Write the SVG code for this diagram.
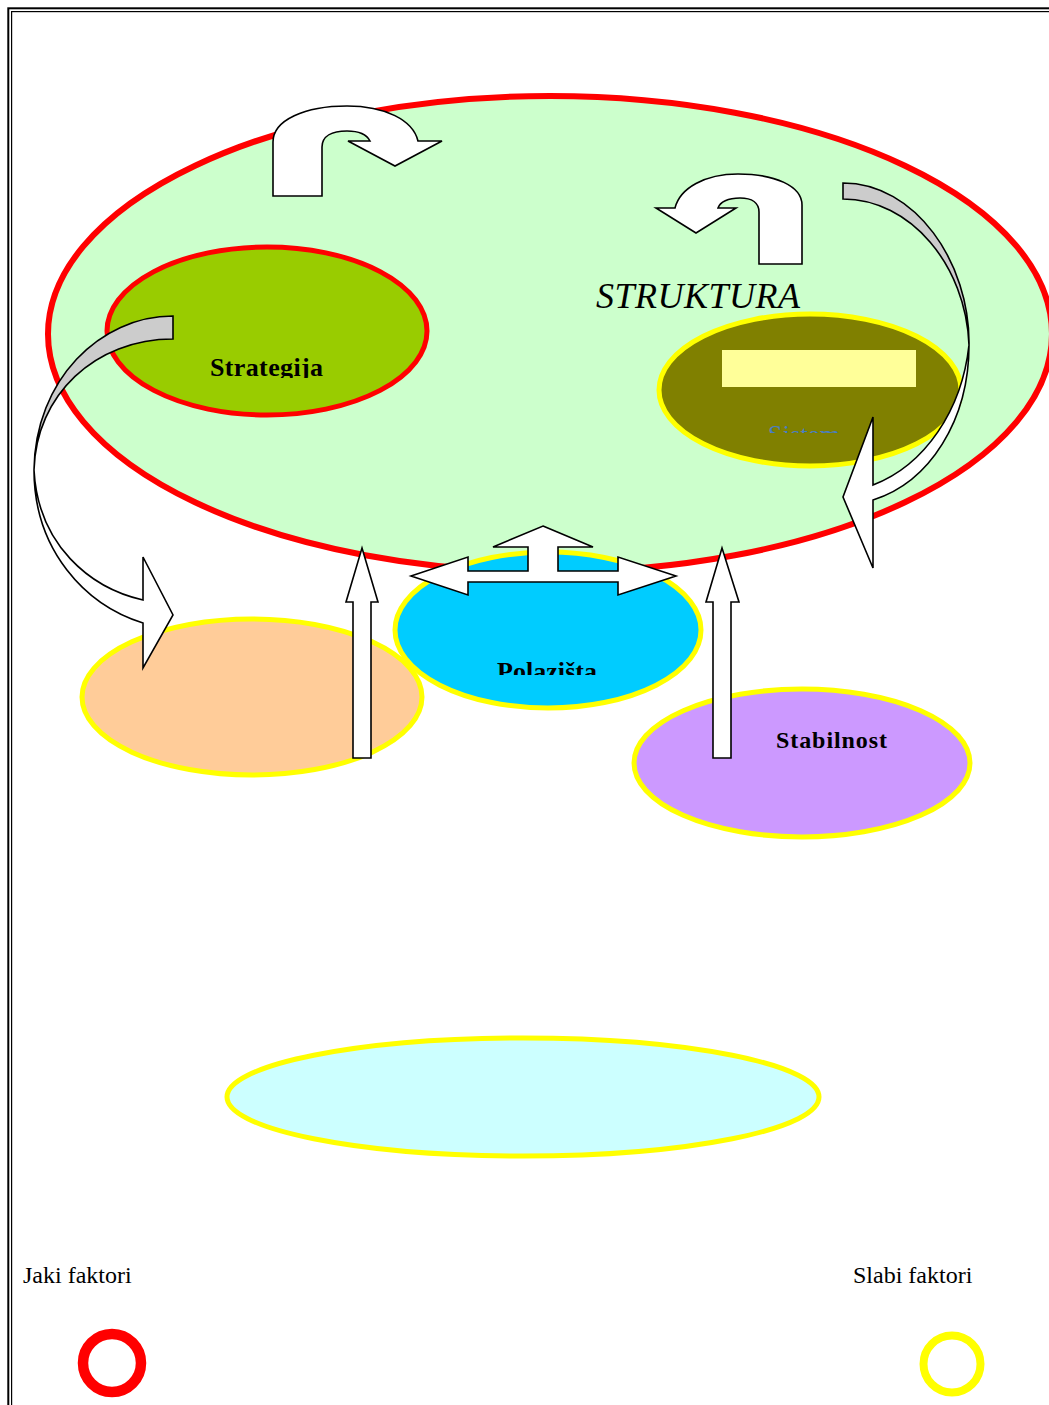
<svg xmlns="http://www.w3.org/2000/svg" width="1049" height="1405" viewBox="0 0 1049 1405">
<style>
.ar{fill:#FFFFFF;stroke:#000000;stroke-width:1.6;stroke-linejoin:miter}
.gr{fill:#CCCCCC;stroke:#000000;stroke-width:1.6}
.yl{stroke:#FFFF00;stroke-width:5}
.lbl{font-family:"Liberation Serif","Times New Roman",serif;font-weight:bold;fill:#000000}
.leg{font-family:"Liberation Serif","Times New Roman",serif;font-size:24px;fill:#000000}
</style>
<defs>
<clipPath id="cStr"><rect x="150" y="340" width="250" height="38"/></clipPath>
<clipPath id="cSis"><rect x="700" y="400" width="200" height="33"/></clipPath>
<clipPath id="cPol"><rect x="450" y="640" width="200" height="35"/></clipPath>
</defs>
<rect width="1049" height="1405" fill="#FFFFFF"/>
<g id="frame" fill="none" stroke="#000000">
<rect x="8.3" y="8.3" width="1100" height="1450" stroke-width="2"/>
<rect x="11.6" y="11.6" width="1100" height="1450" stroke-width="1.2"/>
</g>
<g id="struktura">
<ellipse cx="550" cy="334" rx="502" ry="238" fill="#CCFFCC" stroke="#FF0000" stroke-width="6"/>
<text x="596" y="308" font-family="'Liberation Serif','Times New Roman',serif" font-style="italic" font-size="36" textLength="204">STRUKTURA</text>
</g>
<g id="strategija">
<ellipse cx="267" cy="331" rx="160" ry="84" fill="#99CC00" stroke="#FF0000" stroke-width="5"/>
<text class="lbl" x="210" y="376" font-size="26" textLength="113" clip-path="url(#cStr)">Strategija</text>
</g>
<g id="sistem">
<ellipse cx="810" cy="390" rx="151" ry="76" fill="#808000" class="yl"/>
<rect x="722" y="350" width="194" height="37" fill="#FFFF99"/>
<text x="768" y="443" font-family="'Liberation Serif','Times New Roman',serif" font-size="26" fill="#4A7EC0" textLength="72" clip-path="url(#cSis)">Sistem</text>
</g>
<g id="peach">
<ellipse cx="252" cy="697" rx="170" ry="78" fill="#FFCC99" class="yl"/>
</g>
<g id="polazista">
<ellipse cx="548" cy="630" rx="153" ry="78" fill="#00CCFF" class="yl"/>
<text class="lbl" x="497" y="680" font-size="26" textLength="100" clip-path="url(#cPol)">Polazišta</text>
</g>
<g id="stabilnost">
<ellipse cx="802" cy="763" rx="168" ry="74" fill="#CC99FF" class="yl"/>
<text class="lbl" x="776" y="748" font-size="24" textLength="111">Stabilnost</text>
</g>
<g id="bottom">
<ellipse cx="523" cy="1097" rx="296" ry="59" fill="#CCFFFF" class="yl"/>
</g>
<g id="connectors">
<path class="ar" d="M273,196 L273,142 C273,120 305,106 347,106 C385,106 413,120 418,141 L442,141 L395,166 L348,141 L370,141 C367,135 359,131 347,131 C332,131 322,136 322,147 L322,196 Z"/>
<path class="ar" d="M802,264 L802,205 C802,186 775,174 738,174 C705,174 680,188 675,208 L656,208 L696,233 L736,208 L718,208 C720,202 728,198 740,198 C752,198 759,203 759,212 L759,264 Z"/>
<path class="gr" d="M173,316 C100,316 35,380 34,470 C36,395 95,339 173,339 Z"/>
<path class="ar" d="M34,470 C34,550 85,605 143,623 L143,668 L173,615 L143,557 L143,600 C90,588 38,545 34,470 Z"/>
<path class="gr" d="M843,183 C915,183 970,262 969,345 C966,265 910,199 843,199 Z"/>
<path class="ar" d="M969,345 C969,420 930,482 873,500 L873,568 L843,497 L873,417 L873,485 C925,465 962,410 969,345 Z"/>
<path class="ar" d="M362,548 L378,602 L371,602 L371,758 L353,758 L353,602 L346,602 Z"/>
<path class="ar" d="M722,548 L739,602 L731,602 L731,758 L713,758 L713,602 L706,602 Z"/>
<path class="ar" d="M543,526 L593,547 L558,547 L558,571 L618,571 L618,557 L676,576 L618,595 L618,582 L468,582 L468,595 L411,576 L468,557 L468,571 L528,571 L528,547 L493,547 Z"/>
</g>
<g id="legend">
<text class="leg" x="23" y="1283">Jaki faktori</text>
<text class="leg" x="853" y="1283">Slabi faktori</text>
<circle cx="112" cy="1363" r="29" fill="none" stroke="#FF0000" stroke-width="10.5"/>
<circle cx="952" cy="1364" r="28.5" fill="none" stroke="#FFFF00" stroke-width="8"/>
</g>
</svg>
